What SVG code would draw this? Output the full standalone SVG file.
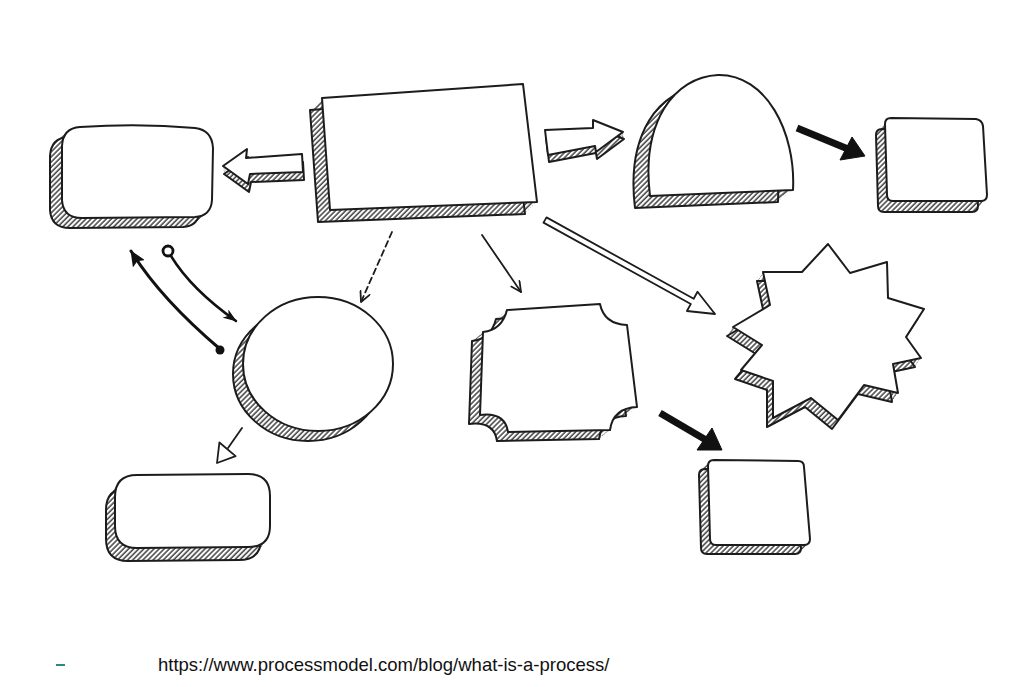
<svg xmlns="http://www.w3.org/2000/svg" xmlns:xlink="http://www.w3.org/1999/xlink" width="1036" height="687" viewBox="0 0 1036 687">
<style>
.front{fill:#fff;stroke:#1c1c1c;stroke-width:2;stroke-linejoin:round}
.shade{fill:url(#hatch);stroke:#1c1c1c;stroke-width:2;stroke-linejoin:round}
.sfill{fill:url(#hatch);stroke:none}
.line{fill:none;stroke:#1c1c1c;stroke-width:1.8;stroke-linecap:round}
.solid{fill:#111;stroke:#111;stroke-width:1;stroke-linejoin:round}
.hollow{fill:#fff;stroke:#1c1c1c;stroke-width:1.8;stroke-linejoin:round}
</style>
<defs>
<pattern id="hatch" width="3.6" height="3.6" patternUnits="userSpaceOnUse" patternTransform="rotate(45)">
<rect width="3.6" height="3.6" fill="#fff"/>
<line x1="1" y1="0" x2="1" y2="3.6" stroke="#333" stroke-width="1.4"/>
</pattern>
<marker id="vhead" viewBox="0 0 12 12" refX="11" refY="6" markerWidth="12" markerHeight="12" markerUnits="userSpaceOnUse" orient="auto">
<path d="M1,1 L11,6 L1,11" fill="none" stroke="#1c1c1c" stroke-width="1.8" stroke-linecap="round" stroke-linejoin="round"/>
</marker>
<marker id="blackhead" viewBox="0 0 16 14" refX="15" refY="7" markerWidth="16" markerHeight="14" markerUnits="userSpaceOnUse" orient="auto">
<path d="M0,0 L16,7 L0,14 L3,7 Z" fill="#111"/>
</marker>
<marker id="slimhead" viewBox="0 0 14 10" refX="13" refY="5" markerWidth="14" markerHeight="10" markerUnits="userSpaceOnUse" orient="auto">
<path d="M0,0 L14,5 L0,10 L4,5 Z" fill="#111"/>
</marker>
<path id="s-left" d="M80,127 Q140,123 195,128 Q212,130 213,148 L212,200 Q211,216 195,217 L82,218 Q63,218 62,200 L62,146 Q63,128 80,127 Z"/>
<path id="s-center" d="M322,98 L523,84 L537,202 L330,210 Z"/>
<path id="s-dome" d="M650,196 C641,122 674,77 718,75 C766,74 796,132 793,190 Z"/>
<path id="s-topright" d="M891,118 L976,119 Q982,120 983,126 L987,195 Q987,201 981,201 L893,201 Q887,201 887,195 L885,124 Q885,118 891,118 Z"/>
<ellipse id="s-circle" cx="318" cy="364" rx="75" ry="67"/>
<path id="s-corner" d="M507,310 L600,304 Q604,324 627,325 L637,407 Q613,408 610,430 L508,432 Q505,412 480,415 L483,332 Q502,330 507,310 Z"/>
<path id="s-star" d="M828,244 L850,273 L887,262 L888,298 L924,309 L906,337 L921,358 L893,364 L898,393 L864,385 L838,420 L811,398 L773,418 L773,381 L741,370 L762,345 L733,327 L770,305 L763,272 L802,272 Z"/>
<path id="s-botright" d="M714,460 L798,461 Q804,461 804,467 L810,539 Q810,545 804,545 L716,545 Q710,545 710,539 L708,466 Q708,460 714,460 Z"/>
<path id="s-botleft" d="M137,475 L248,474 Q270,474 270,496 L270,526 Q270,547 248,547 L137,548 Q115,548 115,526 L115,497 Q115,475 137,475 Z"/>
<path id="s-larrow" d="M223,166 L247,149 L246,158 L302,154 L303,172 L250,174 L248,184 Z"/>
<path id="s-rarrow" d="M545,130 L593,128 L593,120 L623,132 L596,152 L595,146 L548,155 Z"/>
</defs>

<g id="connectors">
<g id="c-center-left">
<use xlink:href="#s-larrow" class="sfill" transform="translate(0.2,1.5)"/>
<use xlink:href="#s-larrow" class="sfill" transform="translate(0.4,3)"/>
<use xlink:href="#s-larrow" class="sfill" transform="translate(0.6,4.5)"/>
<use xlink:href="#s-larrow" class="sfill" transform="translate(0.8,6)"/>
<use xlink:href="#s-larrow" class="shade" transform="translate(1,8)"/>
<use xlink:href="#s-larrow" class="front"/>
</g>
<g id="c-center-dome">
<use xlink:href="#s-rarrow" class="sfill" transform="translate(0.2,1.4)"/>
<use xlink:href="#s-rarrow" class="sfill" transform="translate(0.4,2.8)"/>
<use xlink:href="#s-rarrow" class="sfill" transform="translate(0.6,4.2)"/>
<use xlink:href="#s-rarrow" class="sfill" transform="translate(0.8,5.6)"/>
<use xlink:href="#s-rarrow" class="shade" transform="translate(1,7)"/>
<use xlink:href="#s-rarrow" class="front"/>
</g>
<path d="M797,128 L848,149" fill="none" stroke="#111" stroke-width="7"/>
<polygon class="solid" points="865,156 840,160 852,137"/>
<path d="M660,413 L706,440" fill="none" stroke="#111" stroke-width="7"/>
<polygon class="solid" points="722,450 697,450 712,428"/>
<path class="line" d="M392,232 L361,302" stroke-dasharray="6 4" marker-end="url(#vhead)"/>
<path class="line" d="M482,235 L521,292" marker-end="url(#vhead)"/>
<polygon class="hollow" points="546.5,217.4 693.7,298.8 697.5,291.8 715,314 686.9,311 690.8,304 543.5,222.6"/>
<path d="M220,349 Q160,298 131,251" fill="none" stroke="#111" stroke-width="3" stroke-linecap="round" marker-end="url(#blackhead)"/>
<circle cx="220" cy="350" r="4.5" fill="#111"/>
<path d="M171,256 Q191,289 236,321" fill="none" stroke="#111" stroke-width="2.5" stroke-linecap="round" marker-end="url(#slimhead)"/>
<circle cx="168" cy="251" r="5" fill="#fff" stroke="#111" stroke-width="2.8"/>
<path class="line" d="M242,428 L228,448"/>
<polygon class="hollow" points="217,463 219.4,442.5 235.6,456.1"/>
</g>

<g id="n-left">
<use xlink:href="#s-left" class="sfill" transform="translate(-2,1.7)"/>
<use xlink:href="#s-left" class="sfill" transform="translate(-4,3.3)"/>
<use xlink:href="#s-left" class="sfill" transform="translate(-6,5)"/>
<use xlink:href="#s-left" class="sfill" transform="translate(-8,6.7)"/>
<use xlink:href="#s-left" class="sfill" transform="translate(-10,8.3)"/>
<use xlink:href="#s-left" class="shade" transform="translate(-12,10)"/>
<use xlink:href="#s-left" class="front"/>
</g>
<g id="n-center">
<use xlink:href="#s-center" class="sfill" transform="translate(-2,2)"/>
<use xlink:href="#s-center" class="sfill" transform="translate(-4,4)"/>
<use xlink:href="#s-center" class="sfill" transform="translate(-6,6)"/>
<use xlink:href="#s-center" class="sfill" transform="translate(-8,8)"/>
<use xlink:href="#s-center" class="sfill" transform="translate(-10,10)"/>
<use xlink:href="#s-center" class="shade" transform="translate(-12,12)"/>
<use xlink:href="#s-center" class="front"/>
</g>
<g id="n-dome">
<use xlink:href="#s-dome" class="sfill" transform="translate(-2.5,2)"/>
<use xlink:href="#s-dome" class="sfill" transform="translate(-5,4)"/>
<use xlink:href="#s-dome" class="sfill" transform="translate(-7.5,6)"/>
<use xlink:href="#s-dome" class="sfill" transform="translate(-10,8)"/>
<use xlink:href="#s-dome" class="sfill" transform="translate(-12.5,10)"/>
<use xlink:href="#s-dome" class="shade" transform="translate(-15,12)"/>
<use xlink:href="#s-dome" class="front"/>
</g>
<g id="n-topright">
<use xlink:href="#s-topright" class="sfill" transform="translate(-1.5,1.8)"/>
<use xlink:href="#s-topright" class="sfill" transform="translate(-3,3.7)"/>
<use xlink:href="#s-topright" class="sfill" transform="translate(-4.5,5.5)"/>
<use xlink:href="#s-topright" class="sfill" transform="translate(-6,7.3)"/>
<use xlink:href="#s-topright" class="sfill" transform="translate(-7.5,9.2)"/>
<use xlink:href="#s-topright" class="shade" transform="translate(-9,11)"/>
<use xlink:href="#s-topright" class="front"/>
</g>
<g id="n-circle">
<use xlink:href="#s-circle" class="sfill" transform="translate(-2,2)"/>
<use xlink:href="#s-circle" class="sfill" transform="translate(-4,4)"/>
<use xlink:href="#s-circle" class="sfill" transform="translate(-6,6)"/>
<use xlink:href="#s-circle" class="sfill" transform="translate(-8,8)"/>
<use xlink:href="#s-circle" class="shade" transform="translate(-10,10)"/>
<use xlink:href="#s-circle" class="front"/>
</g>
<g id="n-corner">
<use xlink:href="#s-corner" class="sfill" transform="translate(-1.8,1.5)"/>
<use xlink:href="#s-corner" class="sfill" transform="translate(-3.7,3)"/>
<use xlink:href="#s-corner" class="sfill" transform="translate(-5.5,4.5)"/>
<use xlink:href="#s-corner" class="sfill" transform="translate(-7.3,6)"/>
<use xlink:href="#s-corner" class="sfill" transform="translate(-9.2,7.5)"/>
<use xlink:href="#s-corner" class="shade" transform="translate(-11,9)"/>
<use xlink:href="#s-corner" class="front"/>
</g>
<g id="n-star">
<use xlink:href="#s-star" class="sfill" transform="translate(-1,1.5)"/>
<use xlink:href="#s-star" class="sfill" transform="translate(-2,3)"/>
<use xlink:href="#s-star" class="sfill" transform="translate(-3,4.5)"/>
<use xlink:href="#s-star" class="sfill" transform="translate(-4,6)"/>
<use xlink:href="#s-star" class="sfill" transform="translate(-5,7.5)"/>
<use xlink:href="#s-star" class="shade" transform="translate(-6,9)"/>
<use xlink:href="#s-star" class="front"/>
</g>
<g id="n-botright">
<use xlink:href="#s-botright" class="sfill" transform="translate(-1.5,1.5)"/>
<use xlink:href="#s-botright" class="sfill" transform="translate(-3,3)"/>
<use xlink:href="#s-botright" class="sfill" transform="translate(-4.5,4.5)"/>
<use xlink:href="#s-botright" class="sfill" transform="translate(-6,6)"/>
<use xlink:href="#s-botright" class="sfill" transform="translate(-7.5,7.5)"/>
<use xlink:href="#s-botright" class="shade" transform="translate(-9,9)"/>
<use xlink:href="#s-botright" class="front"/>
</g>
<g id="n-botleft">
<use xlink:href="#s-botleft" class="sfill" transform="translate(-1.5,2.2)"/>
<use xlink:href="#s-botleft" class="sfill" transform="translate(-3,4.3)"/>
<use xlink:href="#s-botleft" class="sfill" transform="translate(-4.5,6.5)"/>
<use xlink:href="#s-botleft" class="sfill" transform="translate(-6,8.7)"/>
<use xlink:href="#s-botleft" class="sfill" transform="translate(-7.5,10.8)"/>
<use xlink:href="#s-botleft" class="shade" transform="translate(-9,13)"/>
<use xlink:href="#s-botleft" class="front"/>
</g>

<g id="footer">
<rect x="56" y="664" width="9" height="2" fill="#2a8a80"/>
<text x="158" y="671" font-family="'Liberation Sans', Arial, sans-serif" font-size="18.5" fill="#111">https://www.processmodel.com/blog/what-is-a-process/</text>
</g>
</svg>
